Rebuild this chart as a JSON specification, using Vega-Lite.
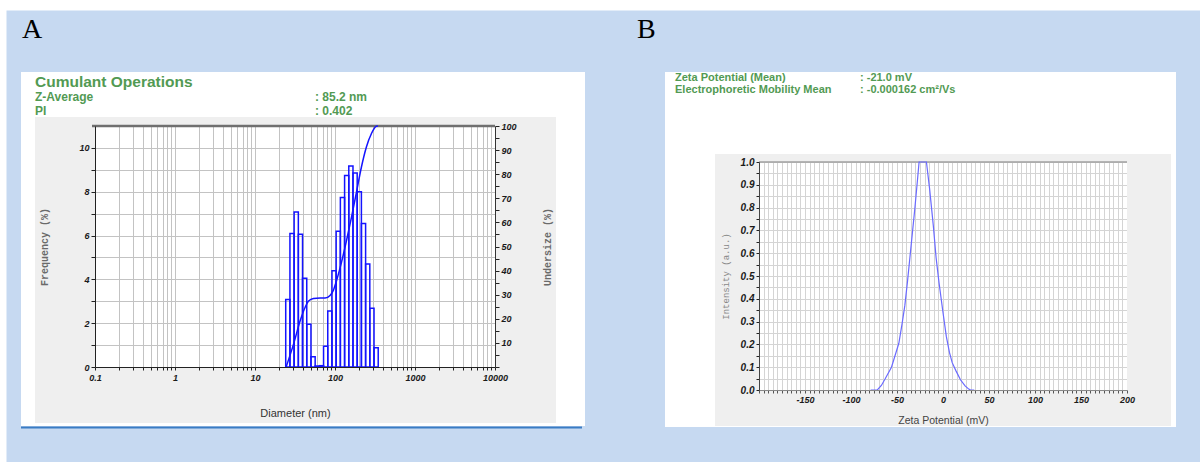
{
  "$schema": "https://vega.github.io/schema/vega-lite/v6.json",
  "background": "white",
  "padding": {"left": 6, "top": 10, "right": 0, "bottom": 0},
  "spacing": -581,
  "align": "none",
  "data": {"values": [{"k": 0}]},
  "datasets": {
    "bars": [
      {"x0": 24.21, "x1": 27.33, "f": 3.08},
      {"x0": 27.33, "x1": 30.84, "f": 6.09},
      {"x0": 30.84, "x1": 34.81, "f": 7.08},
      {"x0": 34.81, "x1": 39.29, "f": 6.06},
      {"x0": 39.29, "x1": 44.35, "f": 4.05},
      {"x0": 44.35, "x1": 50.05, "f": 1.95},
      {"x0": 50.05, "x1": 56.49, "f": 0.47},
      {"x0": 56.49, "x1": 63.76, "f": 0.05},
      {"x0": 63.76, "x1": 71.94, "f": 0.06},
      {"x0": 71.94, "x1": 81.21, "f": 0.95},
      {"x0": 81.21, "x1": 91.64, "f": 2.56},
      {"x0": 91.64, "x1": 103.4, "f": 4.39},
      {"x0": 103.4, "x1": 116.7, "f": 6.2},
      {"x0": 116.7, "x1": 131.8, "f": 7.74},
      {"x0": 131.8, "x1": 148.7, "f": 8.74},
      {"x0": 148.7, "x1": 167.8, "f": 9.17},
      {"x0": 167.8, "x1": 189.4, "f": 8.85},
      {"x0": 189.4, "x1": 213.8, "f": 8.0},
      {"x0": 213.8, "x1": 241.3, "f": 6.55},
      {"x0": 241.3, "x1": 272.3, "f": 4.7},
      {"x0": 272.3, "x1": 307.4, "f": 2.68},
      {"x0": 307.4, "x1": 346.9, "f": 0.88}
    ],
    "cum": [
      {"d": 24.5, "u": 0},
      {"d": 30.46, "u": 9.7},
      {"d": 36.85, "u": 19.4},
      {"d": 42.5, "u": 24.9},
      {"d": 46.7, "u": 27.4},
      {"d": 53.9, "u": 28.4},
      {"d": 65.2, "u": 28.6},
      {"d": 75.2, "u": 28.6},
      {"d": 86.7, "u": 29.7},
      {"d": 95.3, "u": 31.8},
      {"d": 104.9, "u": 36.0},
      {"d": 120.9, "u": 43.6},
      {"d": 139.5, "u": 52.6},
      {"d": 160.9, "u": 62.2},
      {"d": 185.6, "u": 72.6},
      {"d": 214.0, "u": 83.0},
      {"d": 246.9, "u": 91.3},
      {"d": 284.7, "u": 96.8},
      {"d": 328.4, "u": 99.9},
      {"d": 344.0, "u": 100}
    ],
    "zeta": [
      {"mv": -78.6, "i": 0},
      {"mv": -71.4, "i": 0},
      {"mv": -67, "i": 0.02},
      {"mv": -63, "i": 0.048},
      {"mv": -56, "i": 0.1},
      {"mv": -48, "i": 0.205},
      {"mv": -44.5, "i": 0.29},
      {"mv": -41.5, "i": 0.37},
      {"mv": -38.5, "i": 0.48},
      {"mv": -36, "i": 0.58},
      {"mv": -33, "i": 0.7},
      {"mv": -30.5, "i": 0.8},
      {"mv": -28, "i": 0.91},
      {"mv": -26, "i": 1.0},
      {"mv": -18, "i": 1.0},
      {"mv": -14.5, "i": 0.88},
      {"mv": -10.5, "i": 0.72},
      {"mv": -7.5, "i": 0.58},
      {"mv": -4.3, "i": 0.47},
      {"mv": 0, "i": 0.34},
      {"mv": 3.6, "i": 0.235},
      {"mv": 7, "i": 0.165},
      {"mv": 10, "i": 0.12},
      {"mv": 14, "i": 0.085},
      {"mv": 19, "i": 0.045},
      {"mv": 24, "i": 0.018},
      {"mv": 28, "i": 0.004},
      {"mv": 30, "i": 0},
      {"mv": 34, "i": 0}
    ]
  },
  "config": {
    "view": {"stroke": null, "fill": "#ffffff"},
    "axis": {
      "labelFont": "Liberation Sans",
      "labelFontWeight": "bold",
      "labelFontStyle": "italic",
      "labelFontSize": 9,
      "labelColor": "#1a1a1a",
      "labelOverlap": false,
      "labelFlush": false,
      "tickColor": "#222222",
      "titleFontWeight": "normal"
    }
  },
  "hconcat": [
    {
      "width": 400,
      "height": 241,
      "resolve": {"scale": {"y": "independent"}, "axis": {"x": "independent", "y": "independent"}},
      "layer": [
        {
          "resolve": {"axis": {"x": "independent", "y": "independent"}},
          "layer": [
            {
              "mark": {"type": "rect", "color": "#c6d9f1"},
              "encoding": {
                "x": {"datum": 0.0078294, "type": "quantitative", "scale": {"type": "log", "domain": [0.1, 10000], "nice": false}, "axis": null},
                "x2": {"datum": 6.5886e12},
                "y": {"datum": 16.2718, "type": "quantitative", "scale": {"domain": [0, 11], "nice": false, "zero": false}, "axis": null},
                "y2": {"datum": 13.4647}
              }
            },
            {
              "mark": {"type": "rect", "color": "#c6d9f1"},
              "encoding": {
                "x": {"datum": 0.0078294, "type": "quantitative", "scale": {"type": "log", "domain": [0.1, 10000], "nice": false}, "axis": null},
                "x2": {"datum": 6.5886e12},
                "y": {"datum": -2.6929, "type": "quantitative", "scale": {"domain": [0, 11], "nice": false, "zero": false}, "axis": null},
                "y2": {"datum": -4.3589}
              }
            },
            {
              "mark": {"type": "rect", "color": "#c6d9f1"},
              "encoding": {
                "x": {"datum": 0.0078294, "type": "quantitative", "scale": {"type": "log", "domain": [0.1, 10000], "nice": false}, "axis": null},
                "x2": {"datum": 0.011885},
                "y": {"datum": 13.4647, "type": "quantitative", "scale": {"domain": [0, 11], "nice": false, "zero": false}, "axis": null},
                "y2": {"datum": -2.6929}
              }
            },
            {
              "mark": {"type": "rect", "color": "#c6d9f1"},
              "encoding": {
                "x": {"datum": 133352, "type": "quantitative", "scale": {"type": "log", "domain": [0.1, 10000], "nice": false}, "axis": null},
                "x2": {"datum": 6.5886e12},
                "y": {"datum": 13.4647, "type": "quantitative", "scale": {"domain": [0, 11], "nice": false, "zero": false}, "axis": null},
                "y2": {"datum": -2.6929}
              }
            },
            {
              "mark": {"type": "rect", "color": "#ffffff"},
              "encoding": {
                "x": {"datum": 0.011885, "type": "quantitative", "scale": {"type": "log", "domain": [0.1, 10000], "nice": false}, "axis": null},
                "x2": {"datum": 133352},
                "y": {"datum": 13.4647, "type": "quantitative", "scale": {"domain": [0, 11], "nice": false, "zero": false}, "axis": null},
                "y2": {"datum": 11.4108}
              }
            },
            {
              "mark": {"type": "rect", "color": "#ffffff"},
              "encoding": {
                "x": {"datum": 0.011885, "type": "quantitative", "scale": {"type": "log", "domain": [0.1, 10000], "nice": false}, "axis": null},
                "x2": {"datum": 133352},
                "y": {"datum": -2.556, "type": "quantitative", "scale": {"domain": [0, 11], "nice": false, "zero": false}, "axis": null},
                "y2": {"datum": -2.6929}
              }
            },
            {
              "mark": {"type": "rect", "color": "#ffffff"},
              "encoding": {
                "x": {"datum": 0.011885, "type": "quantitative", "scale": {"type": "log", "domain": [0.1, 10000], "nice": false}, "axis": null},
                "x2": {"datum": 0.017783},
                "y": {"datum": 11.4108, "type": "quantitative", "scale": {"domain": [0, 11], "nice": false, "zero": false}, "axis": null},
                "y2": {"datum": -2.556}
              }
            },
            {
              "mark": {"type": "rect", "color": "#ffffff"},
              "encoding": {
                "x": {"datum": 57876, "type": "quantitative", "scale": {"type": "log", "domain": [0.1, 10000], "nice": false}, "axis": null},
                "x2": {"datum": 133352},
                "y": {"datum": 11.4108, "type": "quantitative", "scale": {"domain": [0, 11], "nice": false, "zero": false}, "axis": null},
                "y2": {"datum": -2.556}
              }
            },
            {
              "mark": {"type": "rect", "color": "#efefef"},
              "encoding": {
                "x": {
                  "datum": 0.017783, "type": "quantitative",
                  "scale": {"type": "log", "domain": [0.1, 10000], "nice": false},
                  "axis": {
                    "orient": "bottom",
                    "values": [0.1, 0.2, 0.3, 0.4, 0.5, 0.6, 0.7, 0.8, 0.9, 1, 2, 3, 4, 5, 6, 7, 8, 9, 10, 20, 30, 40, 50, 60, 70, 80, 90, 100, 200, 300, 400, 500, 600, 700, 800, 900, 1000, 2000, 3000, 4000, 5000, 6000, 7000, 8000, 9000, 10000],
                    "grid": true, "gridColor": "#c3c3c3", "gridWidth": 1,
                    "labels": false, "ticks": false, "domain": false, "title": null, "zindex": 0
                  }
                },
                "x2": {"datum": 57876},
                "y": {
                  "datum": 11.4108, "type": "quantitative",
                  "scale": {"domain": [0, 11], "nice": false, "zero": false},
                  "axis": {
                    "orient": "left",
                    "values": [0, 1, 2, 3, 4, 5, 6, 7, 8, 9, 10, 11],
                    "grid": true, "gridColor": "#c3c3c3", "gridWidth": 1,
                    "labels": false, "ticks": false, "domain": false, "title": null, "zindex": 0
                  }
                },
                "y2": {"datum": 11}
              }
            },
            {
              "mark": {"type": "rect", "color": "#efefef"},
              "encoding": {
                "x": {"datum": 0.017783, "type": "quantitative", "scale": {"type": "log", "domain": [0.1, 10000], "nice": false}, "axis": null},
                "x2": {"datum": 57876},
                "y": {"datum": 0, "type": "quantitative", "scale": {"domain": [0, 11], "nice": false, "zero": false}, "axis": null},
                "y2": {"datum": -2.556}
              }
            },
            {
              "mark": {"type": "rect", "color": "#efefef"},
              "encoding": {
                "x": {"datum": 0.017783, "type": "quantitative", "scale": {"type": "log", "domain": [0.1, 10000], "nice": false}, "axis": null},
                "x2": {"datum": 0.1},
                "y": {"datum": 11, "type": "quantitative", "scale": {"domain": [0, 11], "nice": false, "zero": false}, "axis": null},
                "y2": {"datum": 0}
              }
            },
            {
              "mark": {"type": "rect", "color": "#efefef"},
              "encoding": {
                "x": {"datum": 10000, "type": "quantitative", "scale": {"type": "log", "domain": [0.1, 10000], "nice": false}, "axis": null},
                "x2": {"datum": 57876},
                "y": {"datum": 11, "type": "quantitative", "scale": {"domain": [0, 11], "nice": false, "zero": false}, "axis": null},
                "y2": {"datum": 0}
              }
            },
            {
              "data": {"name": "bars"},
              "mark": {"type": "rect", "fill": "transparent", "stroke": "#1414ff", "strokeWidth": 1.5},
              "encoding": {
                "x": {
                  "field": "x0", "type": "quantitative",
                  "scale": {"type": "log", "domain": [0.1, 10000], "nice": false},
                  "axis": {
                    "orient": "bottom",
                    "values": [0.1, 0.2, 0.3, 0.4, 0.5, 0.6, 0.7, 0.8, 0.9, 1, 2, 3, 4, 5, 6, 7, 8, 9, 10, 20, 30, 40, 50, 60, 70, 80, 90, 100, 200, 300, 400, 500, 600, 700, 800, 900, 1000, 2000, 3000, 4000, 5000, 6000, 7000, 8000, 9000, 10000],
                    "grid": false, "domainColor": "#222222", "tickSize": 3, "labelPadding": 3,
                    "labelOverlap": false, "labelFlush": false,
                    "labelExpr": "(abs(log(datum.value)/LN10 - round(log(datum.value)/LN10)) < 0.001) ? ('' + datum.value) : ''",
                    "title": "Diameter (nm)", "titleFont": "Liberation Sans", "titleFontSize": 11, "titleColor": "#333333",
                    "titleX": 200, "titleY": 46, "titleBaseline": "middle", "titleAlign": "center",
                    "zindex": 1
                  }
                },
                "x2": {"field": "x1"},
                "y": {
                  "field": "f", "type": "quantitative",
                  "scale": {"domain": [0, 11], "nice": false, "zero": false},
                  "axis": {
                    "orient": "left",
                    "values": [0, 1, 2, 3, 4, 5, 6, 7, 8, 9, 10],
                    "grid": false, "domainColor": "#222222", "tickSize": 4, "labelPadding": 2,
                    "labelOverlap": false,
                    "labelExpr": "(datum.value % 2 == 0) ? ('' + datum.value) : ''",
                    "title": "Frequency (%)", "titleFont": "Liberation Mono", "titleFontSize": 10, "titleFontWeight": "bold", "titleColor": "#6a6a6a",
                    "titleAngle": -90, "titleX": -51, "titleY": 120.5, "titleBaseline": "middle", "titleAlign": "center",
                    "zindex": 1
                  }
                },
                "y2": {"datum": 0}
              }
            },
            {
              "mark": {"type": "rule", "color": "#6f6f6f", "strokeWidth": 2.5},
              "encoding": {
                "x": {"datum": 0.091728, "type": "quantitative", "scale": {"type": "log", "domain": [0.1, 10000], "nice": false}, "axis": null},
                "x2": {"datum": 10000},
                "y": {"datum": 11, "type": "quantitative", "scale": {"domain": [0, 11], "nice": false, "zero": false}, "axis": null}
              }
            },
            {
              "mark": {"type": "rule", "color": "#3a7cc4", "strokeWidth": 2},
              "encoding": {
                "x": {"datum": 0.011885, "type": "quantitative", "scale": {"type": "log", "domain": [0.1, 10000], "nice": false}, "axis": null},
                "x2": {"datum": 122321},
                "y": {"datum": -2.7614, "type": "quantitative", "scale": {"domain": [0, 11], "nice": false, "zero": false}, "axis": null}
              }
            },
            {
              "mark": {"type": "text", "text": "A", "align": "left", "baseline": "alphabetic", "font": "Liberation Serif", "fontSize": 28, "color": "#000000"},
              "encoding": {
                "x": {"datum": 0.012235, "type": "quantitative", "scale": {"type": "log", "domain": [0.1, 10000], "nice": false}, "axis": null},
                "y": {"datum": 15.0166, "type": "quantitative", "scale": {"domain": [0, 11], "nice": false, "zero": false}, "axis": null}
              }
            },
            {
              "mark": {"type": "text", "text": "Cumulant Operations", "align": "left", "baseline": "alphabetic", "font": "Liberation Sans", "fontSize": 15.5, "fontWeight": "bold", "color": "#529a53"},
              "encoding": {
                "x": {"datum": 0.017783, "type": "quantitative", "scale": {"type": "log", "domain": [0.1, 10000], "nice": false}, "axis": null},
                "y": {"datum": 12.7801, "type": "quantitative", "scale": {"domain": [0, 11], "nice": false, "zero": false}, "axis": null}
              }
            },
            {
              "mark": {"type": "text", "text": "Z-Average", "align": "left", "baseline": "alphabetic", "font": "Liberation Sans", "fontSize": 12, "fontWeight": "bold", "color": "#529a53"},
              "encoding": {
                "x": {"datum": 0.017783, "type": "quantitative", "scale": {"type": "log", "domain": [0.1, 10000], "nice": false}, "axis": null},
                "y": {"datum": 12.1411, "type": "quantitative", "scale": {"domain": [0, 11], "nice": false, "zero": false}, "axis": null}
              }
            },
            {
              "mark": {"type": "text", "text": "PI", "align": "left", "baseline": "alphabetic", "font": "Liberation Sans", "fontSize": 12, "fontWeight": "bold", "color": "#529a53"},
              "encoding": {
                "x": {"datum": 0.017783, "type": "quantitative", "scale": {"type": "log", "domain": [0.1, 10000], "nice": false}, "axis": null},
                "y": {"datum": 11.5021, "type": "quantitative", "scale": {"domain": [0, 11], "nice": false, "zero": false}, "axis": null}
              }
            },
            {
              "mark": {"type": "text", "text": ":  85.2 nm", "align": "left", "baseline": "alphabetic", "font": "Liberation Sans", "fontSize": 12, "fontWeight": "bold", "color": "#529a53"},
              "encoding": {
                "x": {"datum": 56.234, "type": "quantitative", "scale": {"type": "log", "domain": [0.1, 10000], "nice": false}, "axis": null},
                "y": {"datum": 12.1411, "type": "quantitative", "scale": {"domain": [0, 11], "nice": false, "zero": false}, "axis": null}
              }
            },
            {
              "mark": {"type": "text", "text": ":  0.402", "align": "left", "baseline": "alphabetic", "font": "Liberation Sans", "fontSize": 12, "fontWeight": "bold", "color": "#529a53"},
              "encoding": {
                "x": {"datum": 56.234, "type": "quantitative", "scale": {"type": "log", "domain": [0.1, 10000], "nice": false}, "axis": null},
                "y": {"datum": 11.5021, "type": "quantitative", "scale": {"domain": [0, 11], "nice": false, "zero": false}, "axis": null}
              }
            }
          ]
        },
        {
          "data": {"name": "cum"},
          "mark": {"type": "line", "color": "#1414ff", "strokeWidth": 1.5, "interpolate": "monotone"},
          "encoding": {
            "x": {"field": "d", "type": "quantitative", "scale": {"type": "log", "domain": [0.1, 10000], "nice": false}, "axis": null},
            "y": {
              "field": "u", "type": "quantitative",
              "scale": {"domain": [0, 100], "nice": false, "zero": false},
              "axis": {
                "orient": "right",
                "values": [0, 5, 10, 15, 20, 25, 30, 35, 40, 45, 50, 55, 60, 65, 70, 75, 80, 85, 90, 95, 100],
                "grid": false, "domainColor": "#333333", "tickSize": 4, "labelPadding": 2,
                "labelOverlap": false,
                "labelExpr": "(datum.value % 10 == 0 && datum.value > 0) ? ('' + datum.value) : ''",
                "title": "Undersize (%)", "titleFont": "Liberation Mono", "titleFontSize": 10, "titleFontWeight": "bold", "titleColor": "#6a6a6a",
                "titleAngle": -90, "titleX": 52, "titleY": 120.5, "titleBaseline": "middle", "titleAlign": "center",
                "zindex": 1
              }
            }
          }
        }
      ]
    },
    {
      "width": 368,
      "height": 264,
      "resolve": {"axis": {"x": "independent", "y": "independent"}},
      "layer": [
        {
          "mark": {"type": "rect", "color": "#ffffff", "opacity": 0},
          "encoding": {
            "x": {"datum": -350.543, "type": "quantitative", "scale": {"domain": [-200, 200], "nice": false, "zero": false}, "axis": null},
            "x2": {"datum": -264.13},
            "y": {"datum": 0.5, "type": "quantitative", "scale": {"domain": [0, 1], "range": [264, 36], "nice": false, "zero": false}, "axis": null},
            "y2": {"datum": 0.4}
          }
        },
        {
          "mark": {"type": "rect", "color": "#ffffff"},
          "encoding": {
            "x": {"datum": -302.174, "type": "quantitative", "scale": {"domain": [-200, 200], "nice": false, "zero": false}, "axis": null},
            "x2": {"datum": 253.261},
            "y": {"datum": 1.39474, "type": "quantitative", "scale": {"domain": [0, 1], "range": [264, 36], "nice": false, "zero": false}, "axis": null},
            "y2": {"datum": 1.03509}
          }
        },
        {
          "mark": {"type": "rect", "color": "#ffffff"},
          "encoding": {
            "x": {"datum": -302.174, "type": "quantitative", "scale": {"domain": [-200, 200], "nice": false, "zero": false}, "axis": null},
            "x2": {"datum": 253.261},
            "y": {"datum": -0.15789, "type": "quantitative", "scale": {"domain": [0, 1], "range": [264, 36], "nice": false, "zero": false}, "axis": null},
            "y2": {"datum": -0.16228}
          }
        },
        {
          "mark": {"type": "rect", "color": "#ffffff"},
          "encoding": {
            "x": {"datum": -302.174, "type": "quantitative", "scale": {"domain": [-200, 200], "nice": false, "zero": false}, "axis": null},
            "x2": {"datum": -247.826},
            "y": {"datum": 1.03509, "type": "quantitative", "scale": {"domain": [0, 1], "range": [264, 36], "nice": false, "zero": false}, "axis": null},
            "y2": {"datum": -0.15789}
          }
        },
        {
          "mark": {"type": "rect", "color": "#ffffff"},
          "encoding": {
            "x": {"datum": 247.826, "type": "quantitative", "scale": {"domain": [-200, 200], "nice": false, "zero": false}, "axis": null},
            "x2": {"datum": 253.261},
            "y": {"datum": 1.03509, "type": "quantitative", "scale": {"domain": [0, 1], "range": [264, 36], "nice": false, "zero": false}, "axis": null},
            "y2": {"datum": -0.15789}
          }
        },
        {
          "mark": {"type": "rect", "color": "#efefef"},
          "encoding": {
            "x": {
              "datum": -247.826, "type": "quantitative",
              "scale": {"domain": [-200, 200], "nice": false, "zero": false},
              "axis": {
                "orient": "top",
                "values": [-200, -195, -190, -185, -180, -175, -170, -165, -160, -155, -150, -145, -140, -135, -130, -125, -120, -115, -110, -105, -100, -95, -90, -85, -80, -75, -70, -65, -60, -55, -50, -45, -40, -35, -30, -25, -20, -15, -10, -5, 0, 5, 10, 15, 20, 25, 30, 35, 40, 45, 50, 55, 60, 65, 70, 75, 80, 85, 90, 95, 100, 105, 110, 115, 120, 125, 130, 135, 140, 145, 150, 155, 160, 165, 170, 175, 180, 185, 190, 195, 200],
                "grid": true, "gridColor": "#d4d4d4", "gridWidth": 1,
                "labels": false, "ticks": false, "domain": false, "title": null, "zindex": 0
              }
            },
            "x2": {"datum": 247.826},
            "y": {
              "datum": 1.03509, "type": "quantitative",
              "scale": {"domain": [0, 1], "range": [264, 36], "nice": false, "zero": false},
              "axis": {
                "orient": "left",
                "values": [0, 0.05, 0.1, 0.15, 0.2, 0.25, 0.3, 0.35, 0.4, 0.45, 0.5, 0.55, 0.6, 0.65, 0.7, 0.75, 0.8, 0.85, 0.9, 0.95, 1],
                "grid": true, "gridColor": "#d4d4d4", "gridWidth": 1,
                "labels": false, "ticks": false, "domain": false, "title": null, "zindex": 0
              }
            },
            "y2": {"datum": 1}
          }
        },
        {
          "mark": {"type": "rect", "color": "#efefef"},
          "encoding": {
            "x": {"datum": -247.826, "type": "quantitative", "scale": {"domain": [-200, 200], "nice": false, "zero": false}, "axis": null},
            "x2": {"datum": 247.826},
            "y": {"datum": 0, "type": "quantitative", "scale": {"domain": [0, 1], "range": [264, 36], "nice": false, "zero": false}, "axis": null},
            "y2": {"datum": -0.15789}
          }
        },
        {
          "mark": {"type": "rect", "color": "#efefef"},
          "encoding": {
            "x": {"datum": -247.826, "type": "quantitative", "scale": {"domain": [-200, 200], "nice": false, "zero": false}, "axis": null},
            "x2": {"datum": -200},
            "y": {"datum": 1, "type": "quantitative", "scale": {"domain": [0, 1], "range": [264, 36], "nice": false, "zero": false}, "axis": null},
            "y2": {"datum": 0}
          }
        },
        {
          "mark": {"type": "rect", "color": "#efefef"},
          "encoding": {
            "x": {"datum": 200, "type": "quantitative", "scale": {"domain": [-200, 200], "nice": false, "zero": false}, "axis": null},
            "x2": {"datum": 247.826},
            "y": {"datum": 1, "type": "quantitative", "scale": {"domain": [0, 1], "range": [264, 36], "nice": false, "zero": false}, "axis": null},
            "y2": {"datum": 0}
          }
        },
        {
          "mark": {"type": "rule", "color": "#a0a0a0", "strokeWidth": 1.5},
          "encoding": {
            "x": {"datum": -200, "type": "quantitative", "scale": {"domain": [-200, 200], "nice": false, "zero": false}, "axis": null},
            "x2": {"datum": 200},
            "y": {"datum": 1, "type": "quantitative", "scale": {"domain": [0, 1], "range": [264, 36], "nice": false, "zero": false}, "axis": null}
          }
        },
        {
          "data": {"name": "zeta"},
          "mark": {"type": "line", "color": "#6a6aff", "strokeWidth": 1.2},
          "encoding": {
            "x": {
              "field": "mv", "type": "quantitative",
              "scale": {"domain": [-200, 200], "nice": false, "zero": false},
              "axis": {
                "orient": "bottom",
                "values": [-200, -195, -190, -185, -180, -175, -170, -165, -160, -155, -150, -145, -140, -135, -130, -125, -120, -115, -110, -105, -100, -95, -90, -85, -80, -75, -70, -65, -60, -55, -50, -45, -40, -35, -30, -25, -20, -15, -10, -5, 0, 5, 10, 15, 20, 25, 30, 35, 40, 45, 50, 55, 60, 65, 70, 75, 80, 85, 90, 95, 100, 105, 110, 115, 120, 125, 130, 135, 140, 145, 150, 155, 160, 165, 170, 175, 180, 185, 190, 195, 200],
                "grid": false, "domainColor": "#888888", "tickSize": 3, "tickColor": "#555555", "labelPadding": 2,
                "labelOverlap": false, "labelFlush": false,
                "labelExpr": "(datum.value % 50 == 0 && datum.value > -200) ? ('' + datum.value) : ''",
                "title": "Zeta Potential (mV)", "titleFont": "Liberation Sans", "titleFontSize": 10.5, "titleColor": "#444444",
                "titleX": 184, "titleY": 30, "titleBaseline": "middle", "titleAlign": "center",
                "zindex": 1
              }
            },
            "y": {
              "field": "i", "type": "quantitative",
              "scale": {"domain": [0, 1], "range": [264, 36], "nice": false, "zero": false},
              "axis": {
                "orient": "left",
                "values": [0, 0.05, 0.1, 0.15, 0.2, 0.25, 0.3, 0.35, 0.4, 0.45, 0.5, 0.55, 0.6, 0.65, 0.7, 0.75, 0.8, 0.85, 0.9, 0.95, 1],
                "grid": false, "domainColor": "#444444", "tickSize": 3, "labelPadding": 2, "labelFontSize": 10,
                "labelOverlap": false,
                "labelExpr": "(abs(datum.value*10 - round(datum.value*10)) < 0.001) ? format(datum.value, '.1f') : ''",
                "title": "Intensity (a.u.)", "titleFont": "Liberation Mono", "titleFontSize": 9, "titleColor": "#888888",
                "titleAngle": -90, "titleX": -34, "titleY": 150, "titleBaseline": "middle", "titleAlign": "center",
                "zindex": 1
              }
            }
          }
        },
        {
          "mark": {"type": "text", "text": "B", "align": "left", "baseline": "alphabetic", "font": "Liberation Serif", "fontSize": 28, "color": "#000000"},
          "encoding": {
            "x": {"datum": -332.609, "type": "quantitative", "scale": {"domain": [-200, 200], "nice": false, "zero": false}, "axis": null},
            "y": {"datum": 1.54386, "type": "quantitative", "scale": {"domain": [0, 1], "range": [264, 36], "nice": false, "zero": false}, "axis": null}
          }
        },
        {
          "mark": {"type": "text", "text": "Zeta Potential (Mean)", "align": "left", "baseline": "alphabetic", "font": "Liberation Sans", "fontSize": 11, "fontWeight": "bold", "color": "#529a53"},
          "encoding": {
            "x": {"datum": -291.304, "type": "quantitative", "scale": {"domain": [-200, 200], "nice": false, "zero": false}, "axis": null},
            "y": {"datum": 1.35526, "type": "quantitative", "scale": {"domain": [0, 1], "range": [264, 36], "nice": false, "zero": false}, "axis": null}
          }
        },
        {
          "mark": {"type": "text", "text": "Electrophoretic Mobility Mean", "align": "left", "baseline": "alphabetic", "font": "Liberation Sans", "fontSize": 11, "fontWeight": "bold", "color": "#529a53"},
          "encoding": {
            "x": {"datum": -291.304, "type": "quantitative", "scale": {"domain": [-200, 200], "nice": false, "zero": false}, "axis": null},
            "y": {"datum": 1.30263, "type": "quantitative", "scale": {"domain": [0, 1], "range": [264, 36], "nice": false, "zero": false}, "axis": null}
          }
        },
        {
          "mark": {"type": "text", "text": ":  -21.0 mV", "align": "left", "baseline": "alphabetic", "font": "Liberation Sans", "fontSize": 11, "fontWeight": "bold", "color": "#529a53"},
          "encoding": {
            "x": {"datum": -90.217, "type": "quantitative", "scale": {"domain": [-200, 200], "nice": false, "zero": false}, "axis": null},
            "y": {"datum": 1.35526, "type": "quantitative", "scale": {"domain": [0, 1], "range": [264, 36], "nice": false, "zero": false}, "axis": null}
          }
        },
        {
          "mark": {"type": "text", "text": ":  -0.000162 cm²/Vs", "align": "left", "baseline": "alphabetic", "font": "Liberation Sans", "fontSize": 11, "fontWeight": "bold", "color": "#529a53"},
          "encoding": {
            "x": {"datum": -90.217, "type": "quantitative", "scale": {"domain": [-200, 200], "nice": false, "zero": false}, "axis": null},
            "y": {"datum": 1.30263, "type": "quantitative", "scale": {"domain": [0, 1], "range": [264, 36], "nice": false, "zero": false}, "axis": null}
          }
        }
      ]
    }
  ]
}
